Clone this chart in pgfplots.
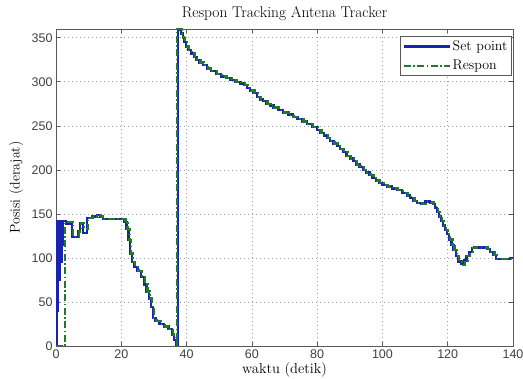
\documentclass[border=0pt]{standalone}
\usepackage{fontspec}
\usepackage{pgfplots}
\pgfplotsset{compat=1.18}
\newfontfamily\ticksans{Liberation Sans}
\definecolor{spblue}{RGB}{25,35,175}
\definecolor{rgreen}{RGB}{35,120,45}
\begin{document}
\begin{tikzpicture}
\begin{axis}[name=ax, width=457pt, height=317pt, scale only axis,
 xmin=0, xmax=140, ymin=0, ymax=360,
 xtick={0,20,...,140}, ytick={0,50,...,350},
 grid=major, major grid style={dash pattern=on 1pt off 3pt, gray!75, line width=0.7pt},
 axis line style={gray!70!black, line width=0.9pt},
 tick align=inside, tick style={gray!70!black, line width=0.7pt}, major tick length=4pt,
 /pgf/number format/assume math mode=true,
 tick label style={font=\ticksans\fontsize{12.5}{13}\selectfont, text=black!75},
 title={Respon Tracking Antena Tracker},
 every axis title/.style={at={(axis description cs:0.5,1.047)}, anchor=center, font=\fontsize{15.5}{17}\selectfont},
 xlabel={waktu (detik)},
 xlabel style={at={(axis description cs:0.5,-0.076)}, anchor=center, font=\fontsize{14.5}{16}\selectfont},
 ylabel={Posisi (derajat)},
 ylabel style={at={(axis description cs:-0.0875,0.5)}, anchor=center, font=\fontsize{14}{16}\selectfont},
 legend style={at={(1,1)}, anchor=north east, xshift=-1pt, yshift=-7.5pt, draw=gray!70!black, line width=0.9pt,
   font=\fontsize{14}{16}\selectfont, inner xsep=2pt, inner ysep=2pt, row sep=4pt,
   /tikz/every even column/.style={column sep=0pt}},
 legend cell align=left,
 legend image code/.code={\draw[#1] (0pt,0pt) -- (46pt,0pt);},
]
\addplot[const plot, color=spblue, line width=2.3pt] table {
x y
0 0
0.2 142
0.5 40
0.7 142
1.0 75
1.2 142
1.5 95
1.7 142
2.0 115
2.2 142
3.0 139
5.0 124
6.8 130
7.3 140
8.3 128
9.4 145
11.0 147
12.5 149
13.5 147
14.5 144
21.0 141
21.6 133
22.2 120
22.7 105
23.3 95
24.0 90
25.0 85
26.0 78
27.0 70
27.7 62
28.5 54
29.2 44
29.8 32
30.5 28
31.7 25
33.0 22
34.5 19
35.5 13
36.2 7
36.8 1
37.3 359
38.3 355
38.8 350
39.3 345
39.8 340
40.5 336
41.3 332
42.2 328
43.0 325
44.0 322
45.0 319
46.2 315
47.5 312
49.0 309
50.5 306
52.0 304
53.5 302
55.0 300
56.5 298
57.5 296
58.5 293
59.5 290
60.5 287
61.5 283
62.5 280
63.5 278
64.5 275
65.5 273
66.6 271
68.0 268
69.5 265
71.0 263
72.5 260
74.0 258
75.5 255
77.0 252
78.5 249
80.0 245
81.0 242
82.0 239
83.0 236
84.0 233
85.0 230
86.0 227
87.0 224
88.0 220
89.0 216
90.0 213
91.0 210
92.0 206
93.0 203
94.0 200
95.0 197
96.0 194
97.0 191
98.0 188
99.0 185
100.0 183
101.5 181
103.0 179
104.5 177
106.0 174
107.5 171
108.5 168
109.5 165
110.5 162
112.0 161
113.0 164
114.5 163
115.5 161
116.2 157
116.8 152
117.4 147
118.0 142
118.6 137
119.2 132
119.8 127
120.5 121
121.2 115
121.8 109
122.5 102
123.2 96
124.0 93
125.0 97
125.8 102
126.6 107
127.4 111
128.0 112
132.0 110
133.0 107
134.0 103
134.7 99
138.5 99
139.0 100
140.0 100
};
\addlegendentry{Set point}
\addplot[const plot, color=rgreen, line width=2.3pt, dash pattern=on 7pt off 2.5pt on 1.5pt off 2.5pt] table {
x y
0 0
2.8 141
5.3 124
7.1 130
7.6 140
8.6 133
9.7 145
11.3 147
12.8 149
13.8 147
14.8 144
21.3 141
21.9 133
22.5 120
23.0 105
23.6 95
24.3 90
25.3 85
26.3 78
27.3 70
28.0 62
28.8 54
29.5 44
30.1 32
30.8 28
32.0 25
33.3 22
34.8 19
35.8 13
36.5 7
37.0 0
37.1 360
38.6 355
39.1 350
39.6 345
40.1 340
40.8 336
41.6 332
42.5 328
43.3 325
44.3 322
45.3 319
46.5 315
47.8 312
49.3 309
50.8 306
52.3 304
53.8 302
55.3 300
56.8 298
57.8 296
58.8 293
59.8 290
60.8 287
61.8 283
62.8 280
63.8 278
64.8 275
65.8 273
66.9 271
68.3 268
69.8 265
71.3 263
72.8 260
74.3 258
75.8 255
77.3 252
78.8 249
80.3 245
81.3 242
82.3 239
83.3 236
84.3 233
85.3 230
86.3 227
87.3 224
88.3 220
89.3 216
90.3 213
91.3 210
92.3 206
93.3 203
94.3 200
95.3 197
96.3 194
97.3 191
98.3 188
99.3 185
100.3 183
101.8 181
103.3 179
104.8 177
106.3 174
107.8 171
108.8 168
109.8 165
110.8 162
112.3 161
113.3 164
114.8 163
115.8 161
116.5 157
117.1 152
117.7 147
118.3 142
118.9 137
119.5 132
120.1 127
120.8 121
121.5 115
122.1 109
122.8 102
123.5 96
124.3 92
125.3 97
126.1 102
126.9 107
127.7 111
128.3 112
132.3 110
133.3 107
134.3 103
135.0 99
138.8 99
139.3 100
140.0 100
};
\addlegendentry{Respon}
\end{axis}
\pgfresetboundingbox
\path ([shift={(-56pt,-33pt)}]ax.south west) rectangle ([shift={(10pt,29pt)}]ax.north east);
\end{tikzpicture}
\end{document}
